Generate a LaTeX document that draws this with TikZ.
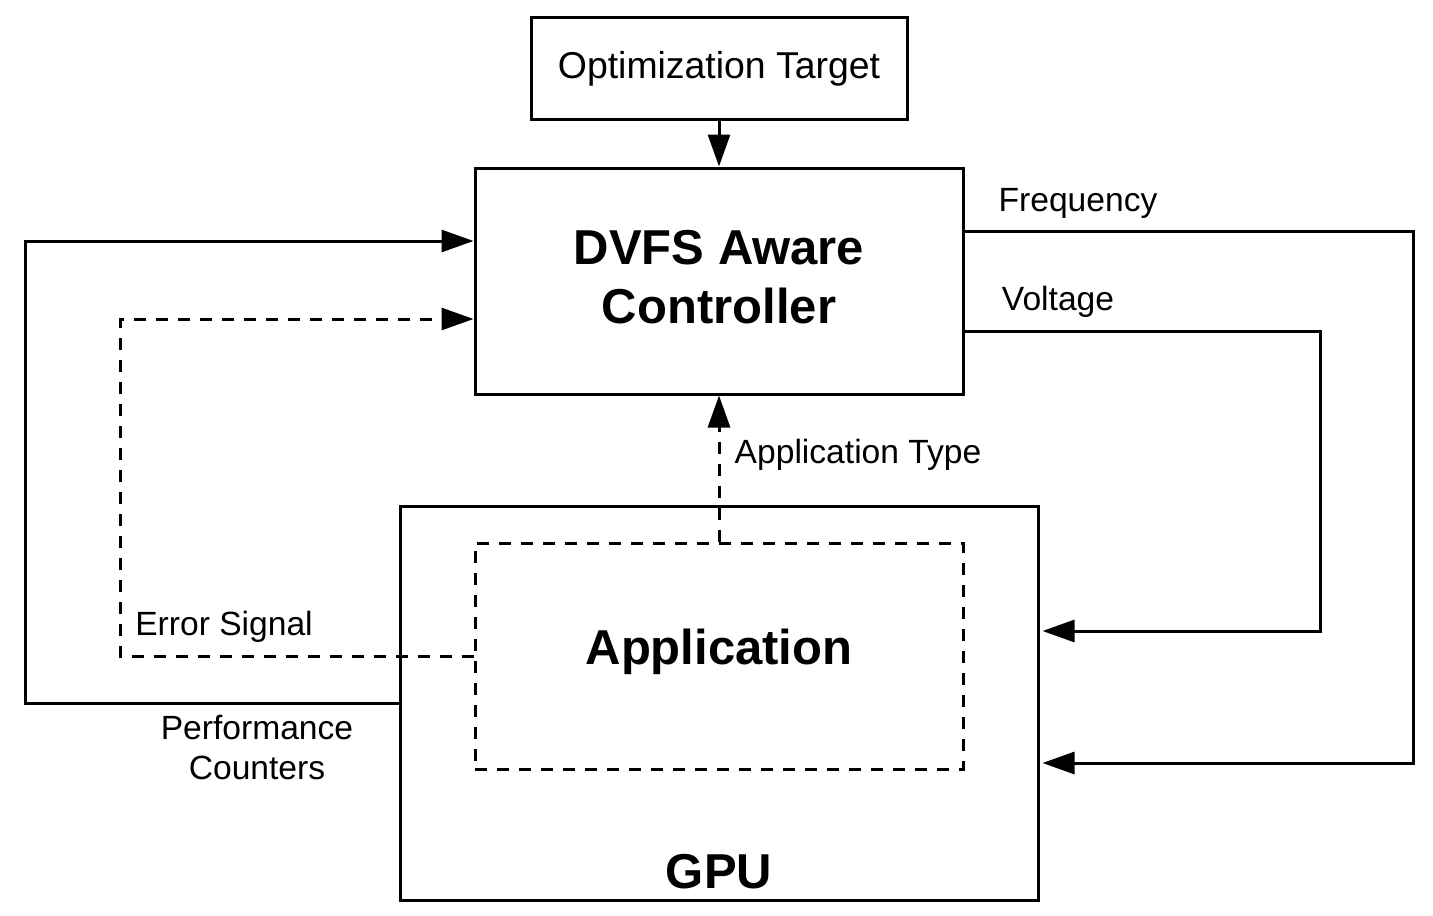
\documentclass[tikz,border=0pt]{standalone}
\usepackage{fontspec}
\setmainfont{Liberation Sans}
\usetikzlibrary{arrows.meta, positioning, calc}

\begin{document}
\begin{tikzpicture}[x=0.5pt, y=-0.5pt,
    block/.style={draw, line width=1.5pt, inner sep=0pt, align=center},
    dashblock/.style={block, dash pattern=on 6pt off 5pt},
    lbl/.style={font=\fontsize{16.8}{20}\selectfont, align=center, inner sep=0pt},
    big/.style={font=\fontsize{24.5}{29.5}\selectfont\bfseries},
    arr/.style={line width=1.5pt, -{Triangle[length=16pt, width=11pt]}},
    dasharr/.style={arr, dash pattern=on 6pt off 5pt}]
  \useasboundingbox (0,0) rectangle (1433,915);

  % Optimization target
  \node[block, font=\fontsize{18.7}{22}\selectfont, minimum width=188pt, minimum height=50.5pt] (opt) at (719,68.5) {Optimization Target};

  % Controller
  \node[block, big, text depth=4pt, minimum width=244pt, minimum height=113pt] (ctrl) at (719,281) {DVFS Aware\\Controller};

  % GPU and application
  \node[block, minimum width=319pt, minimum height=197pt] (gpu) at (719,703) {};
  \node[dashblock, big, text depth=9.2pt, minimum width=244pt, minimum height=113pt] (app) at (719,656) {Application};
  \node[big, inner sep=0pt] (gpulbl) at (719,872) {GPU};

  % ports
  \coordinate (ctrlin1) at ([yshift=20pt]ctrl.west);
  \coordinate (ctrlin2) at ([yshift=-19pt]ctrl.west);
  \coordinate (freqout) at ([yshift=25pt]ctrl.east);
  \coordinate (voltout) at ([yshift=-25pt]ctrl.east);
  \coordinate (voltin) at ([xshift=1.5pt, yshift=36pt]gpu.east);
  \coordinate (freqin) at ([xshift=1.5pt, yshift=-30pt]gpu.east);

  % connectors
  \draw[arr] (opt.south) -- (ctrl.north);
  \draw[arr] (gpu.west) -- (25,703) |- (ctrlin1);
  \draw[dasharr] (app.west) -- (120,656) |- (ctrlin2);
  \draw[dasharr] (app.north) -- (ctrl.south);
  \draw[arr] (freqout) -- (1413,231) |- (freqin);
  \draw[arr] (voltout) -- (1320,331) |- (voltin);

  % labels
  \node[lbl] (freqlbl) at (1078,203) {Frequency};
  \node[lbl] (voltlbl) at (1058,302) {Voltage};
  \node[lbl] (apptype) at (858,455) {Application Type};
  \node[lbl] (errlbl) at (224,627) {Error Signal};
  \node[lbl] (perflbl) at (257,747) {Performance\\Counters};
\end{tikzpicture}
\end{document}
